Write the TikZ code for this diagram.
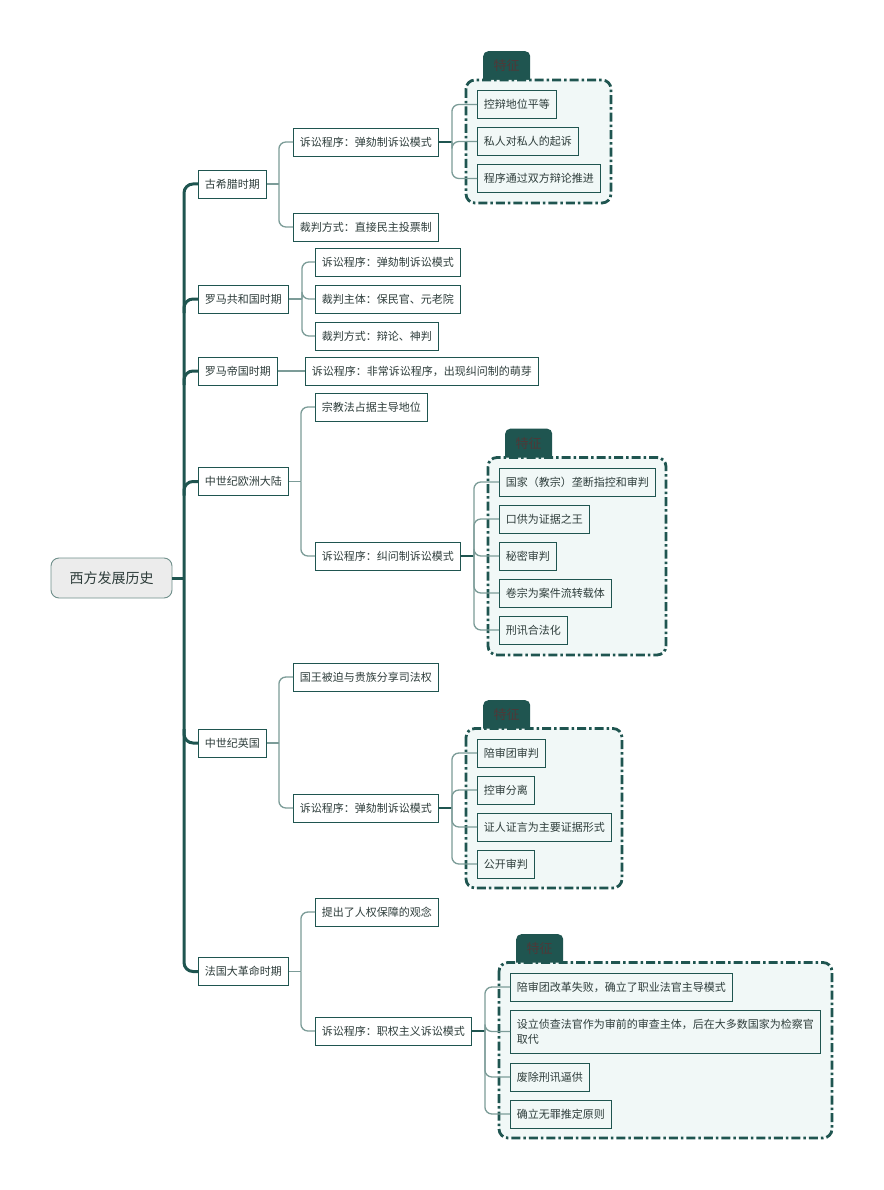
\documentclass[tikz,border=0pt]{standalone}
\usepackage{fontspec}
\newfontfamily\cjk{Noto Sans CJK SC}
\usetikzlibrary{calc}
\definecolor{dteal}{HTML}{1F5550}
\definecolor{lteal}{HTML}{7C9C98}
\definecolor{ffill}{HTML}{F1F8F7}
\definecolor{txt}{HTML}{2E3D3B}
\definecolor{tabtxt}{HTML}{4F3838}
\definecolor{rootfill}{HTML}{ECECEC}
\definecolor{rootline}{HTML}{6F8F8B}
\begin{document}
\begin{tikzpicture}[x=1pt,y=-1pt,
 box/.style={draw=dteal, line width=0.9pt, fill=white, font=\cjk\fontsize{11}{15}\selectfont, text=txt, inner xsep=6.5pt, inner ysep=0pt, minimum height=28pt, anchor=west},
 leafbox/.style={box, fill=ffill},
 rootbox/.style={draw=rootline, line width=0.9pt, fill=rootfill, rounded corners=8pt, minimum width=121pt, minimum height=40pt, font=\cjk\fontsize{14}{16}\selectfont, text=txt, inner sep=0pt},
 trunk/.style={draw=dteal, line width=3pt, rounded corners=9pt},
 conn/.style={draw=lteal, line width=1.3pt, rounded corners=7pt},
 stem/.style={draw=dteal, line width=1.6pt},
 frame/.style={draw=dteal, line width=2.8pt, fill=ffill, rounded corners=9pt, dash pattern=on 9pt off 3pt on 2.5pt off 3pt},
 tabbox/.style={fill=dteal, rounded corners=5pt, minimum width=47pt, inner sep=0pt, text height=19.5pt, text depth=21.5pt, anchor=north west, font=\cjk\fontsize{13}{15}\selectfont, text=tabtxt}
]
\useasboundingbox (0,0) rectangle (883,1190);
\fill[white] (0,0) rectangle (883,1190);

% ---------- root and level 1 ----------
\node[rootbox] (root) at (111.5,578) {西方发展历史};
\node[box] (g) at (198,184) {古希腊时期};
\node[box] (r) at (198,299) {罗马共和国时期};
\node[box] (e) at (198,371) {罗马帝国时期};
\node[box] (m) at (198,481.5) {中世纪欧洲大陆};
\node[box] (k) at (198,743) {中世纪英国};
\node[box] (f) at (198,971.5) {法国大革命时期};

\coordinate (T) at (184,578);
\draw[trunk] (root.east) -- (T);
\draw[trunk] (g.west) -| (T) |- (f.west);
\draw[trunk] ($(T |- r.west)+(0,14)$) |- (r.west);
\draw[trunk] ($(T |- e.west)+(0,14)$) |- (e.west);
\draw[trunk] ($(T |- m.west)+(0,14)$) |- (m.west);
\draw[trunk] ($(T |- k.west)+(0,-14)$) |- (k.west);

% ---------- level 2 ----------
\node[box] (g1) at (293,142) {诉讼程序：弹劾制诉讼模式};
\node[box] (g2) at (293,227) {裁判方式：直接民主投票制};
\node[box] (r1) at (315,262) {诉讼程序：弹劾制诉讼模式};
\node[box] (r2) at (315,299) {裁判主体：保民官、元老院};
\node[box] (r3) at (315,336) {裁判方式：辩论、神判};
\node[box] (e1) at (305,371) {诉讼程序：非常诉讼程序，出现纠问制的萌芽};
\node[box] (m1) at (315,407) {宗教法占据主导地位};
\node[box] (m2) at (315,556) {诉讼程序：纠问制诉讼模式};
\node[box] (k1) at (293,677) {国王被迫与贵族分享司法权};
\node[box] (k2) at (293,808) {诉讼程序：弹劾制诉讼模式};
\node[box] (f1) at (315,912) {提出了人权保障的观念};
\node[box] (f2) at (315,1031) {诉讼程序：职权主义诉讼模式};

\coordinate (gJ) at ($(g.east)+(12,0)$);
\draw[conn] (g.east) -- (gJ);
\draw[conn] (gJ) |- (g1.west);
\draw[conn] (gJ) |- (g2.west);
\coordinate (rJ) at ($(r.east)+(13,0)$);
\draw[conn] (r.east) -- (rJ);
\draw[conn] (rJ) |- (r1.west);
\draw[conn] (rJ) |- (r2.west);
\draw[conn] (rJ) |- (r3.west);
\draw[conn] (e.east) -- (e1.west);
\coordinate (mJ) at ($(m.east)+(12,0)$);
\draw[conn] (m.east) -- (mJ);
\draw[conn] (mJ) |- (m1.west);
\draw[conn] (mJ) |- (m2.west);
\coordinate (kJ) at ($(k.east)+(12,0)$);
\draw[conn] (k.east) -- (kJ);
\draw[conn] (kJ) |- (k1.west);
\draw[conn] (kJ) |- (k2.west);
\coordinate (fJ) at ($(f.east)+(12,0)$);
\draw[conn] (f.east) -- (fJ);
\draw[conn] (fJ) |- (f1.west);
\draw[conn] (fJ) |- (f2.west);

% ---------- Greece features ----------
\node[tabbox] (gt) at (483,51) {特征};
\draw[frame] (466,80) rectangle (611,203);
\node[leafbox] (ga) at (477,104.5) {控辩地位平等};
\node[leafbox] (gb) at (477,141.5) {私人对私人的起诉};
\node[leafbox] (gc) at (477,178.5) {程序通过双方辩论推进};
\coordinate (g1J) at ($(g1.east)+(13,0)$);
\draw[stem] (g1.east) -- (g1J);
\draw[conn] (g1J) |- (ga.west);
\draw[conn] (g1J) |- (gb.west);
\draw[conn] (g1J) |- (gc.west);

% ---------- Medieval Europe features ----------
\node[tabbox] (mt) at (505,428.5) {特征};
\draw[frame] (488,457.5) rectangle (666,655);
\node[leafbox] (ma) at (499,482) {国家（教宗）垄断指控和审判};
\node[leafbox] (mb) at (499,519) {口供为证据之王};
\node[leafbox] (mc) at (499,556) {秘密审判};
\node[leafbox] (md) at (499,593) {卷宗为案件流转载体};
\node[leafbox] (me) at (499,630) {刑讯合法化};
\coordinate (m2J) at ($(m2.east)+(13,0)$);
\draw[stem] (m2.east) -- (m2J);
\draw[conn] (m2J) |- (ma.west);
\draw[conn] (m2J) |- (mb.west);
\draw[conn] (m2J) |- (mc.west);
\draw[conn] (m2J) |- (md.west);
\draw[conn] (m2J) |- (me.west);

% ---------- England features ----------
\node[tabbox] (kt) at (483,700) {特征};
\draw[frame] (466,728.5) rectangle (622,888);
\node[leafbox] (ka) at (477,753) {陪审团审判};
\node[leafbox] (kb) at (477,790) {控审分离};
\node[leafbox] (kc) at (477,827) {证人证言为主要证据形式};
\node[leafbox] (kd) at (477,864) {公开审判};
\coordinate (k2J) at ($(k2.east)+(13,0)$);
\draw[stem] (k2.east) -- (k2J);
\draw[conn] (k2J) |- (ka.west);
\draw[conn] (k2J) |- (kb.west);
\draw[conn] (k2J) |- (kc.west);
\draw[conn] (k2J) |- (kd.west);

% ---------- France features ----------
\node[tabbox] (ft) at (516,934) {特征};
\draw[frame] (499,962.5) rectangle (832,1138);
\node[leafbox] (fa) at (510,987) {陪审团改革失败，确立了职业法官主导模式};
\node[leafbox, align=left, minimum height=43pt] (fb) at (510,1031.5) {设立侦查法官作为审前的审查主体，后在大多数国家为检察官\\取代};
\node[leafbox] (fc) at (510,1077) {废除刑讯逼供};
\node[leafbox] (fd) at (510,1114) {确立无罪推定原则};
\coordinate (f2J) at ($(f2.east)+(13,0)$);
\draw[stem] (f2.east) -- (f2J);
\draw[conn] (f2J) |- (fa.west);
\draw[conn] (f2J) |- (fb.west);
\draw[conn] (f2J) |- (fc.west);
\draw[conn] (f2J) |- (fd.west);
\end{tikzpicture}
\end{document}
